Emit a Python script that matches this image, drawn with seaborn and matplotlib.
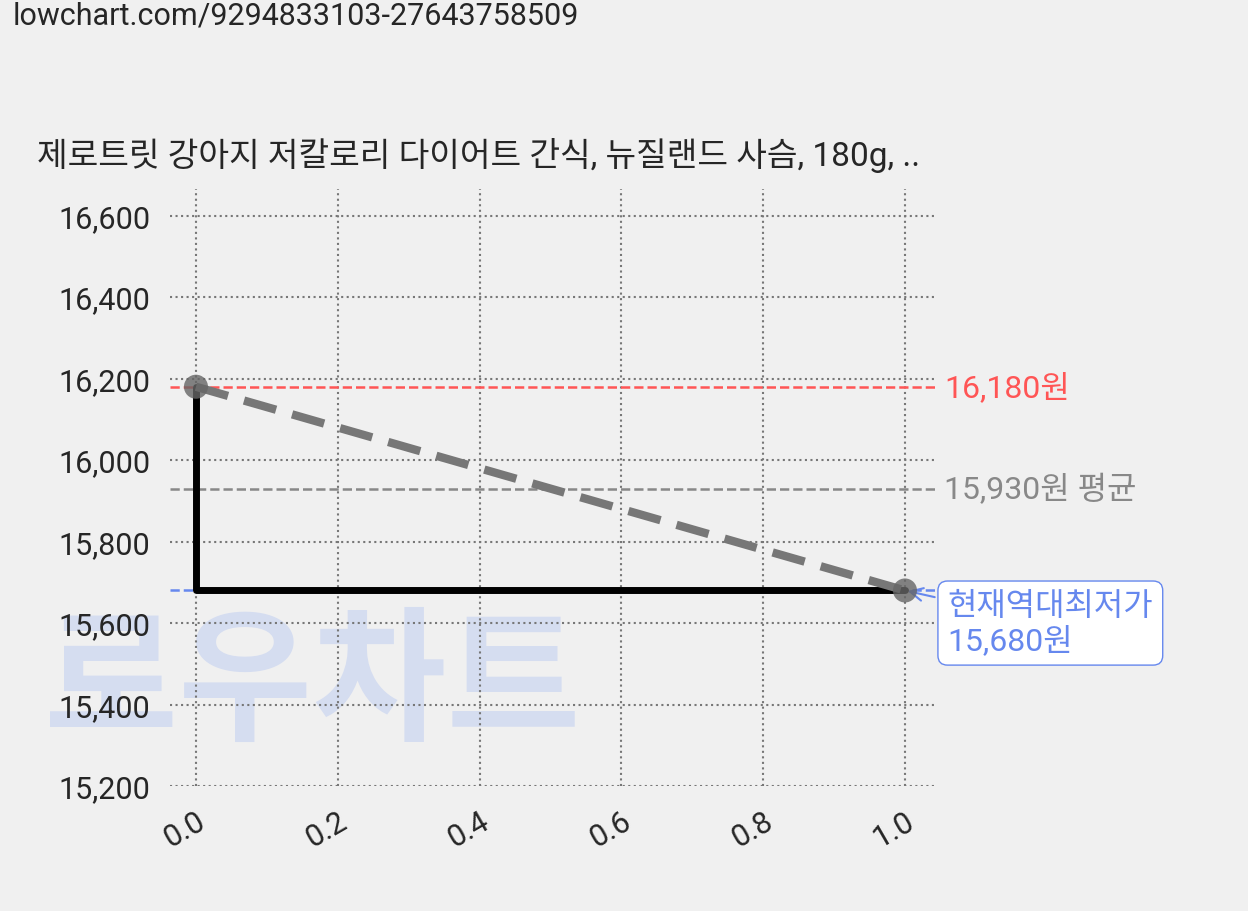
import matplotlib
matplotlib.use('Agg')
import matplotlib.pyplot as plt
import seaborn as sns
import pandas as pd

sns.set_style('white')
plt.rcParams['font.family'] = ['Roboto', 'Noto Sans CJK KR', 'DejaVu Sans']

# data
x_vals = [0.0, 1.0]
prices = [16180, 15680]
step_x = [0.0, 0.0, 1.0]
step_y = [16180, 15680, 15680]
max_price = 16180
avg_price = 15930
min_price = 15680
title = '제로트릿 강아지 저칼로리 다이어트 간식, 뉴질랜드 사슴, 180g, ..'
url = 'lowchart.com/9294833103-27643758509'

fig = plt.figure(figsize=(12.48, 9.12), dpi=100, facecolor='#f0f0f0')
fig.text(0.25, 0.245, '로우차트', fontsize=105, fontweight='bold', style='italic',
         color='#d5ddf0', ha='center', va='center', zorder=0)

ax = fig.add_axes([0.136, 0.137, 0.613, 0.655])
ax.set_zorder(1)
ax.patch.set_visible(False)

df = pd.DataFrame({'x': x_vals, 'y': prices})
ax.plot(step_x, step_y, color='black', linewidth=5, zorder=3)
sns.lineplot(data=df, x='x', y='y', ax=ax, color='#777777', linewidth=6,
             linestyle=(0, (4, 2)), zorder=4)
sns.scatterplot(data=df, x='x', y='y', ax=ax, color='#666666', s=300, alpha=0.8,
                edgecolor='none', zorder=5)

ax.axhline(max_price, color='#ff5555', linestyle='--', linewidth=1.8, zorder=2)
ax.axhline(avg_price, color='#888888', linestyle='--', linewidth=1.8, zorder=2)
ax.axhline(min_price, color='#6688ee', linestyle='--', linewidth=1.8, zorder=2)

ax.text(1.055, max_price, f'{max_price:,}원', color='#ff5555', fontsize=23, va='center')
ax.text(1.055, avg_price, f'{avg_price:,}원 평균', color='#888888', fontsize=23, va='center')
ax.annotate(f'현재역대최저가\n{min_price:,}원', xy=(1.0, min_price), xytext=(1.06, min_price - 80),
            color='#6688ee', fontsize=23, va='center',
            bbox=dict(boxstyle='round,pad=0.3', facecolor='white', edgecolor='#6688ee'),
            arrowprops=dict(arrowstyle='->', color='#6688ee', lw=1.5))

ax.set_xlim(-0.037, 1.042)
ax.set_ylim(15200, 16666)
ax.set_xticks([0, 0.2, 0.4, 0.6, 0.8, 1.0])
ax.set_xticklabels(['0.0', '0.2', '0.4', '0.6', '0.8', '1.0'], rotation=30, fontsize=22,
                   ha='right', rotation_mode='anchor')
ax.set_yticks(range(15200, 16601, 200))
ax.set_yticklabels([f'{v:,}' for v in range(15200, 16601, 200)], fontsize=22)
ax.tick_params(length=0, pad=14)
ax.grid(True, color='#777777', linestyle=':', linewidth=1.5)
ax.set_xlabel('')
ax.set_ylabel('')
for s in ax.spines.values():
    s.set_visible(False)

fig.text(0.03, 0.83, title, fontsize=24, va='center')
fig.text(0.01, 0.982, url, fontsize=22, va='center')

fig.savefig('out.png', dpi=100, facecolor='#f0f0f0')
